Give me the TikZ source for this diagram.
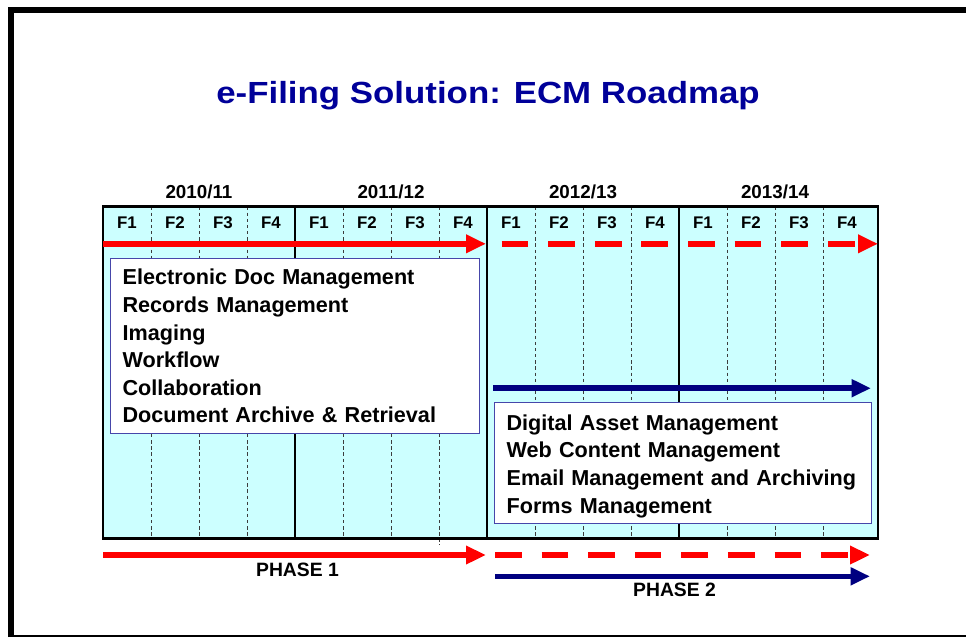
\documentclass[tikz,border=0pt]{standalone}
\usepackage{fontspec}
\setmainfont{Liberation Sans}
\usepackage{xcolor}
\usepackage{graphicx}
\usetikzlibrary{arrows.meta}

\definecolor{panelcyan}{RGB}{204,255,255}
\definecolor{roadnavy}{RGB}{0,0,128}
\definecolor{titlenavy}{RGB}{0,0,153}
\definecolor{boxedge}{RGB}{70,70,170}
\definecolor{gridgray}{RGB}{60,60,60}

\begin{document}
\begin{tikzpicture}[
        x=0.02cm, y=-0.02cm,
        every node/.style={font=\bfseries},
        titletext/.style={text=titlenavy, anchor=base, font=\bfseries\fontsize{17.4pt}{20pt}\selectfont},
        yearlabel/.style={anchor=base, font=\bfseries\fontsize{10.7pt}{13pt}\selectfont},
        quarterlabel/.style={anchor=base, font=\bfseries\fontsize{9.6pt}{12pt}\selectfont},
        phaselabel/.style={anchor=base, font=\bfseries\fontsize{11pt}{13pt}\selectfont},
        panel/.style={line width=1.4pt, fill=panelcyan},
        yearline/.style={line width=1.4pt},
        quarterline/.style={draw=gridgray, line width=0.5pt, dash pattern=on 1.9pt off 1.6pt},
        featurebox/.style={draw=boxedge, line width=0.7pt, fill=white, anchor=north west, align=left, inner xsep=0.24cm, font=\bfseries\fontsize{12.3pt}{15.7pt}\selectfont},
        redarrow/.style={draw=red, line width=3.2pt, -{Triangle[length=0.4cm, width=0.35cm]}},
        reddashed/.style={redarrow, dash pattern=on 0.534cm off 0.398cm},
        bluearrow/.style={draw=roadnavy, line width=3.1pt, -{Triangle[length=0.39cm, width=0.34cm]}}
    ]

    \useasboundingbox (0,0) rectangle (966,637);

    \draw[line width=3.4pt] (11,637) -- (11,9.7) -- (966,9.7);
    \draw[line width=0.85pt] (8,635.8) -- (966,635.8);

    \node[titletext] (title) at (488,103.3) {\scalebox{1.14}[1]{e-Filing Solution: ECM Roadmap}};

    \fill[panelcyan] (103,206.5) rectangle (878,538.3);
    \foreach \x in {151,199,247,343,391,439,535,583,631,727,775,823}
        \draw[quarterline] (\x,206.5) -- (\x,538.3);
    \draw[quarterline] (439,538.3) -- (439,545);
    \foreach \x in {295,487,679}
        \draw[yearline] (\x,206.5) -- (\x,538.3);
    \draw[panel, fill=none] (103,206.5) rectangle (878,538.3);

    \foreach \lbl [count=\i from 0] in {2010/11, 2011/12, 2012/13, 2013/14}
        \node[yearlabel] (year\i) at (199+192*\i,198) {\lbl};
    \foreach \i in {0,...,3}
        \foreach \q in {1,...,4}
            \node[quarterlabel] (q\i\q) at (79+192*\i+48*\q,228) {F\q};

    \node[featurebox, text width=6.90cm, minimum width=7.38cm, minimum height=3.5cm] (phaseonebox) at (110,258)
        {Electronic Doc Management\\ Records Management\\ Imaging\\ Workflow\\ Collaboration\\ Document Archive \& Retrieval};
    \node[featurebox, text width=7.06cm, minimum width=7.54cm, minimum height=2.38cm] (phasetwobox) at (494,402)
        {\rule{0pt}{12.4pt}Digital Asset Management\\ Web Content Management\\ Email Management and Archiving\\ Forms Management};

    \coordinate (ecmstart) at (103,243.8);
    \coordinate (ecmend) at (486,243.8);
    \coordinate (ecmnext) at (501.7,243.8);
    \coordinate (ecmfar) at (878,243.8);
    \coordinate (damstart) at (493,388.2);
    \coordinate (damend) at (871,388.2);

    \draw[redarrow] (ecmstart) -- (ecmend);
    \draw[reddashed] (ecmnext) -- (ecmfar);
    \draw[bluearrow] (damstart) -- (damend);

    \coordinate (oneleft) at (103,555);
    \coordinate (oneright) at (486,555);
    \coordinate (onenext) at (495,555);
    \coordinate (onefar) at (870,555);
    \coordinate (twoleft) at (495,576.3);
    \coordinate (tworight) at (870,576.3);

    \draw[redarrow] (oneleft) -- (oneright);
    \draw[reddashed] (onenext) -- (onefar);
    \draw[bluearrow] (twoleft) -- (tworight);

    \node[phaselabel] (phaseone) at (297.5,576.7) {PHASE 1};
    \node[phaselabel] (phasetwo) at (674.5,596) {PHASE 2};

\end{tikzpicture}
\end{document}
